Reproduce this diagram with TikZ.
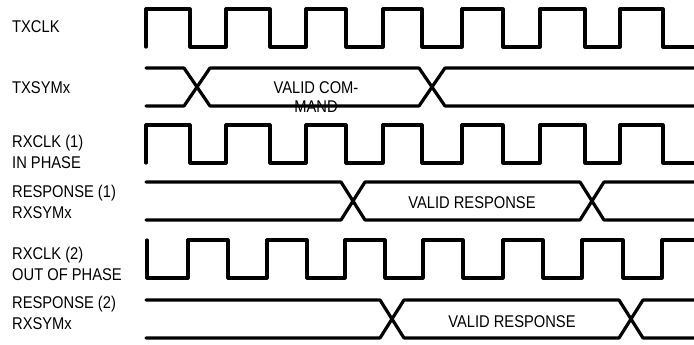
\documentclass[tikz,border=0pt]{standalone}
\usepackage{fontspec}
\newfontfamily\labfont[FakeStretch=0.865]{Liberation Sans}
\begin{document}
\begin{tikzpicture}[x=1pt,y=-1pt,
  wave/.style={line width=3.2pt,line join=round,line cap=round},
  lbl/.style={anchor=base west,inner sep=0pt,font=\labfont\fontsize{17}{20}\selectfont},
  txt/.style={anchor=base,inner sep=0pt,font=\labfont\fontsize{17}{20}\selectfont}]
\useasboundingbox (0,0) rectangle (694,345);
% labels
\node[lbl] (l1) at (12,33) {TXCLK};
\node[lbl] (l2) at (12,93) {TXSYMx};
\node[lbl] (l3a) at (12,147) {RXCLK (1)};
\node[lbl] (l3b) at (12,168) {IN PHASE};
\node[lbl] (l4a) at (12,197) {RESPONSE (1)};
\node[lbl] (l4b) at (12,218) {RXSYMx};
\node[lbl] (l5a) at (12,259) {RXCLK (2)};
\node[lbl] (l5b) at (12,280) {OUT OF PHASE};
\node[lbl] (l6a) at (12,308) {RESPONSE (2)};
\node[lbl] (l6b) at (12,329) {RXSYMx};
% TXCLK
\draw[wave] (146,47) -- (146,9) -- (190,9) -- (190,47) -- (226,47) -- (226,9) -- (270,9) -- (270,47)
  -- (306,47) -- (306,9) -- (346,9) -- (346,47) -- (383,47) -- (383,9) -- (422,9) -- (422,47)
  -- (462,47) -- (462,9) -- (503,9) -- (503,47) -- (540,47) -- (540,9) -- (585,9) -- (585,47)
  -- (620,47) -- (620,9) -- (663,9) -- (663,47) -- (694,47);
% TXSYMx
\draw[wave] (146,68) -- (184,68) -- (210,106) -- (419,106) -- (445,68) -- (694,68);
\draw[wave] (146,106) -- (184,106) -- (210,68) -- (419,68) -- (445,106) -- (694,106);
\node[txt] (t1) at (316,93) {VALID COM-};
\node[txt] (t2) at (316,113) {MAND};
% RXCLK (1)
\draw[wave] (146,163) -- (146,125) -- (190,125) -- (190,163) -- (226,163) -- (226,125) -- (270,125) -- (270,163)
  -- (306,163) -- (306,125) -- (346,125) -- (346,163) -- (383,163) -- (383,125) -- (422,125) -- (422,163)
  -- (462,163) -- (462,125) -- (503,125) -- (503,163) -- (540,163) -- (540,125) -- (585,125) -- (585,163)
  -- (620,163) -- (620,125) -- (663,125) -- (663,163) -- (694,163);
% RESPONSE (1)
\draw[wave] (146,182) -- (341,182) -- (365,220) -- (580,220) -- (604,182) -- (694,182);
\draw[wave] (146,220) -- (341,220) -- (365,182) -- (580,182) -- (604,220) -- (694,220);
\node[txt] (t3) at (472,208) {VALID RESPONSE};
% RXCLK (2)
\draw[wave] (147,240) -- (147,278) -- (188,278) -- (188,240) -- (228,240) -- (228,278) -- (267,278) -- (267,240)
  -- (307,240) -- (307,278) -- (345,278) -- (345,240) -- (385,240) -- (385,278) -- (423,278) -- (423,240)
  -- (463,240) -- (463,278) -- (503,278) -- (503,240) -- (543,240) -- (543,278) -- (582,278) -- (582,240)
  -- (623,240) -- (623,278) -- (662,278) -- (662,240) -- (694,240);
% RESPONSE (2)
\draw[wave] (146,300) -- (380,300) -- (404,338) -- (619,338) -- (643,300) -- (694,300);
\draw[wave] (146,338) -- (380,338) -- (404,300) -- (619,300) -- (643,338) -- (694,338);
\node[txt] (t4) at (512,327) {VALID RESPONSE};
\end{tikzpicture}
\end{document}
